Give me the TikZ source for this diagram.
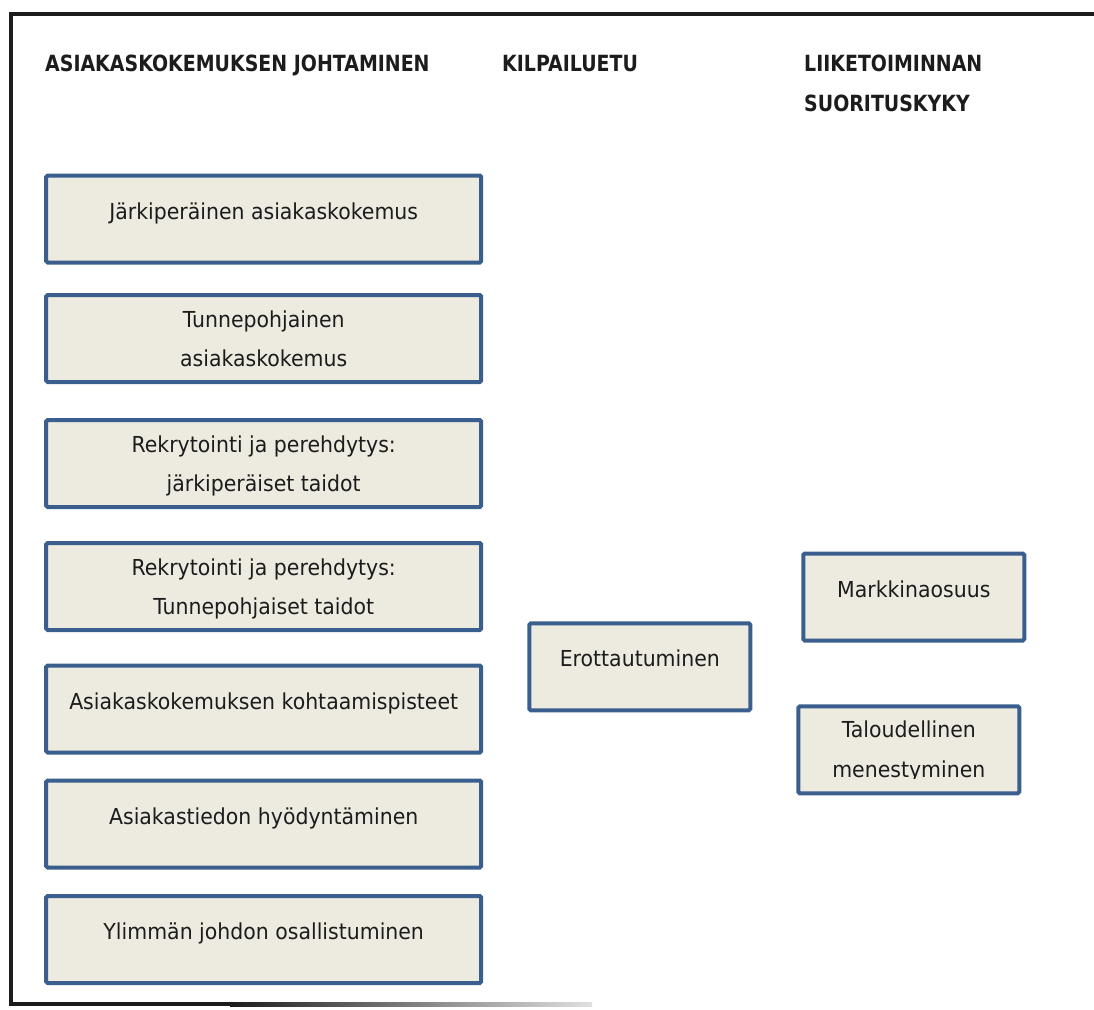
\documentclass[tikz,border=0pt]{standalone}
\usepackage{fontspec}
\setmainfont{DejaVu Sans}[FakeStretch=0.93]
\newfontfamily\headfont{DejaVu Sans Bold}[FakeStretch=0.85]
\definecolor{boxfill}{HTML}{EDEAE0}
\definecolor{boxline}{HTML}{3A5F8F}
\definecolor{ink}{HTML}{1C1C1C}
\begin{document}
\begin{tikzpicture}[x=1pt,y=-1pt,
  card/.style={draw=boxline, line width=4pt, fill=boxfill, rounded corners=1.5pt,
               inner sep=0pt, minimum height=87pt},
  wide/.style={card, minimum width=435pt},
  narrow/.style={card, minimum width=221pt},
  txt/.style={anchor=base, inner sep=0pt, text=ink, font=\fontsize{22}{26}\selectfont},
  head/.style={anchor=base west, inner sep=0pt, text=ink, font=\headfont\fontsize{22.3}{26}\selectfont}]
  \useasboundingbox (0,0) rectangle (1094,1009);

  % outer frame (open on the right)
  \draw[ink, line width=4pt] (11,1004) -- (11,14) -- (1094,14);
  \fill[ink] (9,1002) rectangle (230,1006);
  \shade[left color=ink, right color=black!12] (230,1002) rectangle (592,1006);

  % column headings
  \node[head] (h1) at (45,71) {ASIAKASKOKEMUKSEN JOHTAMINEN};
  \node[head] (h2) at (502,71) {KILPAILUETU};
  \node[head] (h3a) at (804,71) {LIIKETOIMINNAN};
  \node[head] (h3b) at (804,111) {SUORITUSKYKY};

  % customer-experience management factors
  \node[wide] (b1) at (263.7,219) {};
  \node[txt] (t1) at (b1.center) {Järkiperäinen asiakaskokemus};

  \node[wide] (b2) at (263.7,338.5) {};
  \node[txt, yshift=11.5pt] (t2a) at (b2.center) {Tunnepohjainen};
  \node[txt, yshift=-27.5pt] (t2b) at (b2.center) {asiakaskokemus};

  \node[wide] (b3) at (263.7,463.5) {};
  \node[txt, yshift=11.5pt] (t3a) at (b3.center) {Rekrytointi ja perehdytys:};
  \node[txt, yshift=-27.5pt] (t3b) at (b3.center) {järkiperäiset taidot};

  \node[wide] (b4) at (263.7,586.5) {};
  \node[txt, yshift=11.5pt] (t4a) at (b4.center) {Rekrytointi ja perehdytys:};
  \node[txt, yshift=-27.5pt] (t4b) at (b4.center) {Tunnepohjaiset taidot};

  \node[wide] (b5) at (263.7,709) {};
  \node[txt] (t5) at (b5.center) {Asiakaskokemuksen kohtaamispisteet};

  \node[wide] (b6) at (263.7,824) {};
  \node[txt] (t6) at (b6.center) {Asiakastiedon hyödyntäminen};

  \node[wide] (b7) at (263.7,939.5) {};
  \node[txt] (t7) at (b7.center) {Ylimmän johdon osallistuminen};

  % competitive advantage
  \node[narrow] (c1) at (639.8,666.8) {};
  \node[txt] (u1) at (c1.center) {Erottautuminen};

  % business performance
  \node[narrow] (p1) at (913.8,597) {};
  \node[txt] (q1) at (p1.center) {Markkinaosuus};

  \node[narrow] (p2) at (908.8,749.8) {};
  \node[txt, yshift=12.5pt] (q2a) at (p2.center) {Taloudellinen};
  \begin{scope}
    \clip (p2.north west) rectangle ([yshift=-28.5pt]p2.east);
    \node[txt, yshift=-27.5pt] (q2b) at (p2.center) {menestyminen};
  \end{scope}
\end{tikzpicture}
\end{document}
